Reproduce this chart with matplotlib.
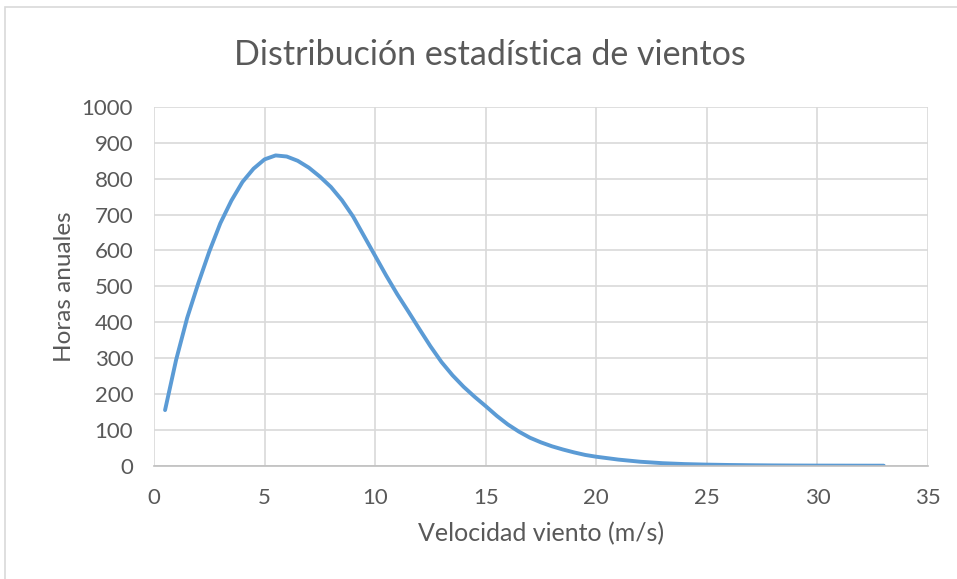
import matplotlib
matplotlib.use("Agg")
import matplotlib.pyplot as plt
from matplotlib.patches import Rectangle

# velocidad del viento (m/s) y horas anuales
velocidad = [0.5, 1, 1.5, 2, 2.5, 3, 3.5, 4, 4.5, 5, 5.5, 6, 6.5, 7, 7.5, 8,
             8.5, 9, 9.5, 10, 10.5, 11, 11.5, 12, 12.5, 13, 13.5, 14, 14.5, 15,
             15.5, 16, 16.5, 17, 17.5, 18, 18.5, 19, 19.5, 20, 20.5, 21, 21.5,
             22, 22.5, 23, 24, 25, 26, 27, 28, 29, 30, 31, 32, 33]
horas = [155, 295, 412, 508, 597, 676, 739, 791, 828, 854, 865, 862, 850, 831,
         806, 777, 740, 695, 640, 585, 530, 478, 430, 381, 333, 289, 252, 220,
         192, 166, 139, 115, 95, 78, 65, 54, 45, 37, 30, 25, 21, 17, 14, 11, 9,
         7, 4.5, 3, 2, 1.3, 0.8, 0.5, 0.3, 0.2, 0.1, 0.05]

x_ticks = [0, 5, 10, 15, 20, 25, 30, 35]
y_ticks = [0, 100, 200, 300, 400, 500, 600, 700, 800, 900, 1000]

plt.rcParams['font.family'] = ['Lato', 'DejaVu Sans']
texto = '#595959'

fig = plt.figure(figsize=(9.57, 5.79), dpi=100)
ax = fig.add_axes([154 / 957, 1 - 465.7 / 579, (928 - 154) / 957, (465.7 - 107) / 579])

# marco del area del grafico
fig.patches.append(Rectangle((5 / 957, -0.1), 1.2, 1.1 - 7 / 579, transform=fig.transFigure,
                             fill=False, edgecolor='#D9D9D9', linewidth=1.2))

ax.plot(velocidad, horas, color='#5B9BD5', linewidth=2.8,
        solid_capstyle='round', solid_joinstyle='round')

ax.set_xlim(0, 35)
ax.set_ylim(0, 1000)
ax.set_xticks(x_ticks)
ax.set_yticks(y_ticks)
ax.grid(True, color='#D9D9D9', linewidth=1.2)
ax.set_axisbelow(True)
for lado in ['top', 'right', 'left']:
    ax.spines[lado].set_visible(False)
ax.spines['bottom'].set_color('#BFBFBF')
ax.spines['bottom'].set_linewidth(1.2)
ax.tick_params(length=0, labelsize=16, labelcolor=texto)
ax.tick_params(axis='x', pad=16)
ax.tick_params(axis='y', pad=15)

ax.set_xlabel('Velocidad viento (m/s)', fontsize=18, color=texto, labelpad=10)
ax.set_ylabel('Horas anuales', fontsize=17.5, color=texto, labelpad=5)
fig.text(0.512, 1 - 55 / 579, 'Distribución estadística de vientos', ha='center', va='center',
         fontsize=24.5, color=texto)

fig.savefig('out.png', dpi=100)
